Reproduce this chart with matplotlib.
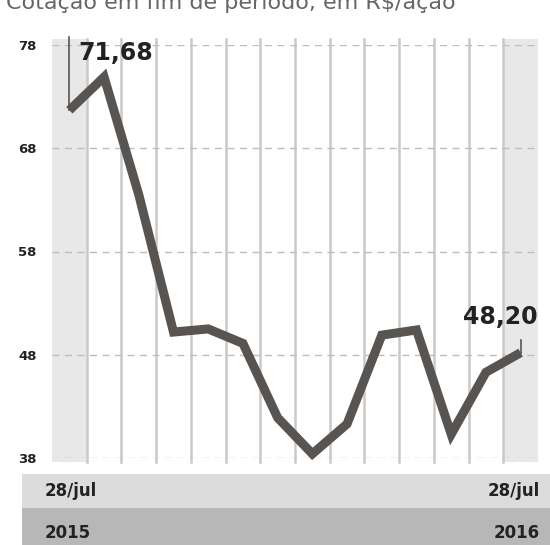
import matplotlib.pyplot as plt
import numpy as np

# closing price at end of period, R$/share
values = [71.68, 74.9, 63.5, 50.2, 50.5, 49.1, 41.9, 38.4, 41.3, 49.9, 50.4, 40.3, 46.3, 48.20]
yticks = [38, 48, 58, 68, 78]
first_label = "71,68"
last_label = "48,20"
date_labels = ["28/jul", "28/jul"]
year_labels = ["2015", "2016"]
title = "Cotação em fim de período, em R$/ação"

line_col = "#575451"
grid_col = "#c9c9c9"

fig = plt.figure(figsize=(5.5, 5.45), dpi=100)
ax = fig.add_axes([52 / 550, 1 - 458 / 545, 486 / 550, 413 / 545])

x = np.arange(len(values))
ax.set_xlim(-0.5, len(values) - 0.5)
ax.set_ylim(38, 78)

# shaded first and last columns
ax.axvspan(-0.5, 0.5, ymin=-0.01, ymax=1.015, color="#e8e8e8", lw=0, zorder=0, clip_on=False)
ax.axvspan(len(values) - 1.5, len(values) - 0.5, ymin=-0.01, ymax=1.015,
           color="#e8e8e8", lw=0, zorder=0, clip_on=False)

# vertical column separators
for xv in np.arange(0.5, len(values) - 1, 1.0):
    ax.axvline(xv, ymin=-0.01, ymax=1.015, color=grid_col, lw=1.8, zorder=1, clip_on=False)

# horizontal dashed grid
for yv in yticks:
    ax.axhline(yv, color="#bdbdbd", lw=1.0, ls=(0, (5, 4)), zorder=1)

ax.plot(x, values, color=line_col, lw=6.5, solid_joinstyle="miter",
        solid_capstyle="butt", zorder=3, clip_on=False)

# annotations
ax.plot([0, 0], [values[0], 78.8], color=line_col, lw=1.2, zorder=2, clip_on=False)
ax.text(0.25, 78.4, first_label, fontsize=17, fontweight="bold", color="#222222",
        ha="left", va="top", zorder=4)
ax.plot([x[-1], x[-1]], [values[-1], values[-1] + 1.2], color=line_col, lw=1.2,
        zorder=2, clip_on=False)
ax.text(x[-1] + 0.5, values[-1] + 2.3, last_label, fontsize=17, fontweight="bold",
        color="#222222", ha="right", va="bottom", zorder=4)

ax.set_xticks([])
ax.set_yticks(yticks)
ax.set_yticklabels([str(v) for v in yticks], fontsize=9.5, fontweight="bold", color="#222222")
ax.tick_params(axis="y", length=0, pad=11)
for s in ax.spines.values():
    s.set_visible(False)

# bottom date bands
fig.patches.append(plt.Rectangle((22 / 550, 1 - 508 / 545), 1, 34 / 545,
                                 transform=fig.transFigure, color="#dcdcdc", lw=0))
fig.patches.append(plt.Rectangle((22 / 550, 0), 1, 1 - 508 / 545,
                                 transform=fig.transFigure, color="#b7b7b7", lw=0))
fig.text(45 / 550, 1 - 491 / 545, date_labels[0], fontsize=12, fontweight="bold",
         color="#222222", ha="left", va="center")
fig.text(540 / 550, 1 - 491 / 545, date_labels[1], fontsize=12, fontweight="bold",
         color="#222222", ha="right", va="center")
fig.text(45 / 550, 1 - 533 / 545, year_labels[0], fontsize=12, fontweight="bold",
         color="#222222", ha="left", va="center")
fig.text(540 / 550, 1 - 533 / 545, year_labels[1], fontsize=12, fontweight="bold",
         color="#222222", ha="right", va="center")

# title, partly cut at the top edge as in the source
fig.text(0.01, 0.995, title, fontsize=16, color="#666666", ha="left", va="center")

fig.savefig("out.png", dpi=100, facecolor="white")
